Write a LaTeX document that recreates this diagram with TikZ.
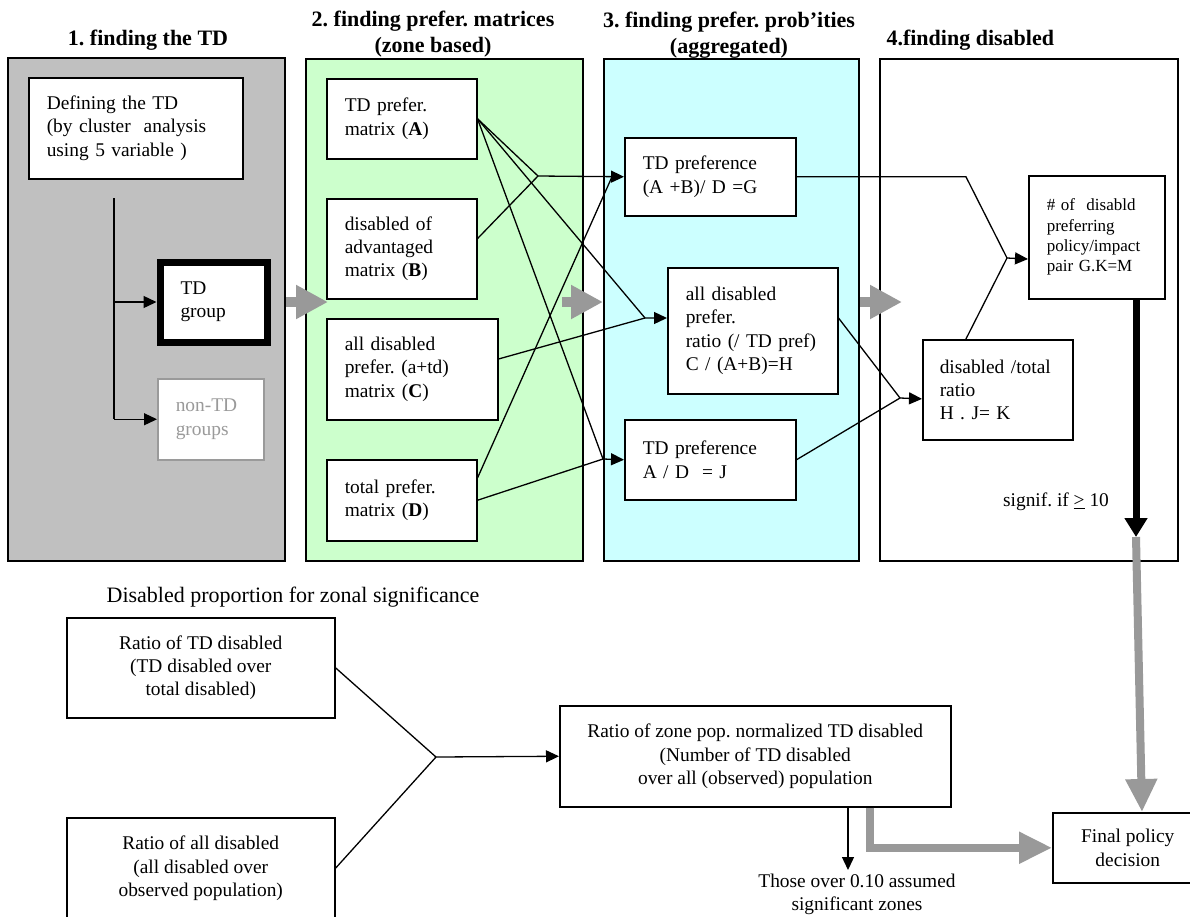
\documentclass[tikz,border=0pt]{standalone}
\usepackage{fontspec}
\setmainfont{Liberation Serif}
\usetikzlibrary{arrows.meta,positioning,calc}
\frenchspacing

\definecolor{panelgray}{HTML}{C0C0C0}
\definecolor{panelgreen}{HTML}{CCFFCC}
\definecolor{panelcyan}{HTML}{CCFFFF}
\definecolor{arrowgray}{HTML}{999999}
\definecolor{nongray}{HTML}{9A9A9A}

\begin{document}
\begin{tikzpicture}[x=1pt, y=-1pt,
    every node/.style={font=\fontsize{19.4}{23.3}\selectfont},
    panel/.style={draw, line width=2pt, anchor=north west, inner sep=0pt},
    box/.style={draw, fill=white, line width=1.5pt, anchor=north west, align=left, inner xsep=18pt, inner ysep=0pt},
    cbox/.style={draw, fill=white, line width=1.5pt, anchor=north west, align=center, inner sep=0pt},
    title/.style={font=\bfseries\fontsize{22}{26}\selectfont, align=center},
    line/.style={line width=1.3pt},
    arr/.style={line width=1.3pt, -{Triangle[length=13pt,width=12pt]}},
    bigarr/.style={line width=10pt, arrowgray, -{Triangle[length=32pt,width=32pt]}},
    grayarr/.style={line width=8pt, arrowgray, -{Triangle[length=33pt,width=30pt]}},
    blackarr/.style={line width=7pt, -{Triangle[length=19pt,width=22pt]}},
]

    \useasboundingbox (0,0) rectangle (1190,916);
    \clip (0,0) rectangle (1190,916);
    \fill[white] (0,0) rectangle (1190,916);

    % the four stages
    \node[panel, fill=panelgray, minimum width=277pt, minimum height=503pt] (stage1) at (7,57) {};
    \node[panel, fill=panelgreen, minimum width=277pt, minimum height=502pt] (stage2) at (305,58) {};
    \node[panel, fill=panelcyan, minimum width=255pt, minimum height=502pt] (stage3) at (603,58) {};
    \node[panel, fill=white, minimum width=298pt, minimum height=502pt] (stage4) at (879,58) {};

    \node[title] (title_1) at (148,40) {1. finding the TD};
    \node[title] (title_2) at (433,34) {2. finding prefer. matrices\\(zone based)};
    \node[title] (title_3) at (729,35) {3. finding prefer. prob’ities\\(aggregated)};
    \node[title, anchor=west] (title_4) at (883,40) {4.finding disabled};

    % stage 1
    \node[box, text width=178pt, minimum height=101pt] (td_def) at (28,77)
        {Defining the TD\\(by cluster~ analysis\\using 5 variable )};
    \node[box, line width=7pt, inner xsep=20.5pt, text width=66pt, minimum height=80pt] (td_group) at (156.5,258.5)
        {TD\\group};
    \node[box, draw=nongray, text=nongray, text width=70pt, minimum height=81pt] (non_td) at (157,378)
        {non-TD\\groups};

    % stage 2
    \node[box, text width=114pt, minimum height=80pt] (mat_a) at (326,78) {TD prefer.\\matrix (\textbf{A})};
    \node[box, text width=114pt, minimum height=100pt] (mat_b) at (326,198) {disabled of\\advantaged\\matrix (\textbf{B})};
    \node[box, text width=135pt, minimum height=101pt] (mat_c) at (326,318) {all disabled\\prefer. (a+td)\\matrix (\textbf{C})};
    \node[box, text width=114pt, minimum height=81pt] (mat_d) at (326,459) {total prefer.\\matrix (\textbf{D})};

    % stage 3
    \node[box, text width=135pt, minimum height=78pt] (pref_g) at (624,137) {TD preference\\(A +B)/ D =G};
    \node[box, text width=134pt, minimum height=126pt] (ratio_h) at (667,267) {all disabled\\prefer.\\ratio (/ TD pref)\\C / (A+B)=H};
    \node[box, text width=135pt, minimum height=80pt] (pref_j) at (624,419) {TD preference\\A / D~ = J};

    % stage 4
    \node[box, font=\fontsize{17}{20.3}\selectfont, text width=100pt, minimum height=123pt] (num_m) at (1028,175)
        {\# of~ disabld\\preferring\\policy/impact\\pair G.K=M};
    \node[box, text width=116pt, inner xsep=17pt, minimum height=100pt] (ratio_k) at (922,339) {disabled /total\\ratio\\H . J= K};
    \node (signif) at (1056,502) {signif. if \underline{>} 10};

    % zonal significance
    \node[font=\fontsize{22}{26}\selectfont] (zonal_title) at (293,597) {Disabled proportion for zonal significance};
    \node[cbox, minimum width=268pt, minimum height=100pt] (ratio_td) at (66,617) {Ratio of TD disabled\\(TD disabled over\\total disabled)};
    \node[cbox, minimum width=268pt, minimum height=101pt] (ratio_all) at (66,817) {Ratio of all disabled\\(all disabled over\\observed population)};
    \node[cbox, minimum width=391pt, minimum height=101pt] (zone_norm) at (559,705)
        {Ratio of zone pop. normalized TD disabled\\(Number of TD disabled\\over all (observed) population};
    \node[align=center, anchor=north] (sig_zones) at (857,870) {Those over 0.10 assumed\\significant zones};
    \node[cbox, minimum width=150pt, minimum height=70pt] (final) at (1052,812) {Final policy\\decision};

    % stage 1 split
    \coordinate (split) at (114,198);
    \draw[line] (split) -- (split |- non_td.west);
    \draw[arr] (split |- td_group.west) -- (td_group.west);
    \draw[arr] (split |- non_td.west) -- (non_td.west);

    \draw[bigarr] (stage1.east |- td_group) -- ++(42,0);
    \draw[bigarr] ($(stage2.east |- td_group)+(-22,0)$) -- (stage3.west |- td_group);
    \draw[bigarr] (stage3.east |- td_group) -- ++(42,0);

    % matrices to probabilities
    \coordinate (join_g) at (538,176);
    \coordinate (join_h) at (645,318);
    \coordinate (join_j) at (603,459);
    \draw[line] (mat_a.east) -- (join_g);
    \draw[line] ($(mat_b.north east)!0.4!(mat_b.south east)$) -- (join_g);
    \draw[arr] (join_g) -- (pref_g.west);
    \draw[line] ($(mat_d.north east)!0.23!(mat_d.south east)$) -- ($(pref_g.west)+(-12,0)$);
    \draw[line] (mat_a.east) -- (join_h);
    \draw[line] ($(mat_c.north east)!0.4!(mat_c.south east)$) -- (join_h);
    \draw[arr] (join_h) -- ($(ratio_h.north west)!0.4!(ratio_h.south west)$);
    \draw[line] (mat_a.east) -- (join_j);
    \draw[line] (mat_d.east) -- (join_j);
    \draw[arr] (join_j) -- (pref_j.west);

    % probabilities to disabled
    \coordinate (k_top) at ($(ratio_k.north west)!0.29!(ratio_k.north east)$);
    \coordinate (join_m) at (1007,258);
    \coordinate (join_k) at (900,398);
    \draw[line] (pref_g.east) -- (pref_g.east -| k_top) -- (join_m);
    \draw[line] (k_top) -- (join_m);
    \draw[arr] (join_m) -- ($(num_m.north west)!0.675!(num_m.south west)$);
    \draw[line] ($(ratio_h.north east)!0.4!(ratio_h.south east)$) -- (join_k);
    \draw[line] (pref_j.east) -- (join_k);
    \draw[arr] (join_k) -- ($(ratio_k.north west)!0.59!(ratio_k.south west)$);

    \coordinate (sig_end) at (1136,537);
    \coordinate (fin_in) at (1142,0);
    \draw[blackarr] (num_m.south -| sig_end) -- (sig_end);
    \draw[grayarr] (sig_end) -- (fin_in |- final.north);

    % zonal part
    \coordinate (join_z) at (436,757);
    \coordinate (cut_x) at (848,0);
    \coordinate (pass_x) at (870,0);
    \draw[line] (ratio_td.east) -- (join_z);
    \draw[line] (ratio_all.east) -- (join_z);
    \draw[arr] (join_z) -- (zone_norm.west);
    \draw[arr] (zone_norm.south -| cut_x) -- (cut_x |- sig_zones.north);
    \draw[grayarr] (zone_norm.south -| pass_x) |- (final.west);

\end{tikzpicture}
\end{document}
